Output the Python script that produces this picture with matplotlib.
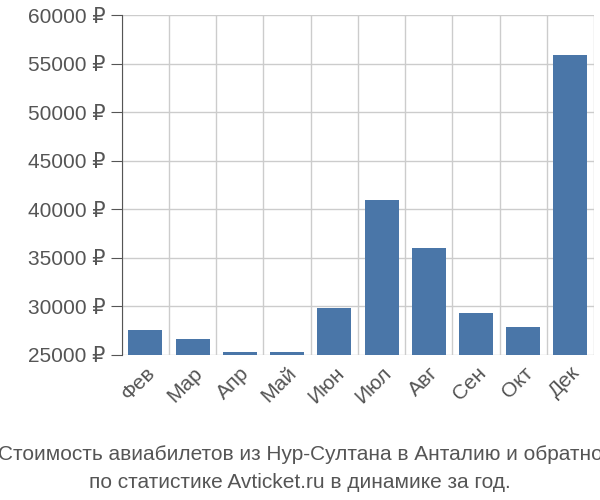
import matplotlib
matplotlib.use("Agg")
import matplotlib.pyplot as plt
import numpy as np

months = ["Фев", "Мар", "Апр", "Май", "Июн", "Июл", "Авг", "Сен", "Окт", "Дек"]
prices = [27600, 26600, 25300, 25300, 29800, 41000, 36000, 29300, 27900, 55900]
yticks = [25000, 30000, 35000, 40000, 45000, 50000, 55000, 60000]

plt.rcParams["font.family"] = ["Liberation Sans", "DejaVu Sans"]
fig = plt.figure(figsize=(6, 5), dpi=100)
ax = fig.add_axes([0.203, 0.29, 0.787, 0.68])
x = np.arange(len(months))
ax.bar(x, [p - 25000 for p in prices], bottom=25000, width=0.72, color="#4a76a8", zorder=3)
ax.set_xlim(-0.5, len(months) - 0.5)
ax.set_ylim(25000, 60000)
ax.set_yticks(yticks)
ax.set_yticklabels([f"{v} ₽" for v in yticks], fontsize=15, color="#555555")
ax.set_xticks(x)
ax.set_xticklabels(months, rotation=45, ha="right", rotation_mode="anchor", fontsize=15, color="#555555")
ax.set_xticks(np.arange(-0.5, len(months), 1), minor=True)
ax.grid(True, axis="y", color="#cccccc", lw=1, zorder=0)
ax.grid(True, axis="x", which="minor", color="#cccccc", lw=1, zorder=0)
ax.tick_params(axis="x", which="both", length=0, pad=6)
ax.tick_params(axis="y", length=8, color="#555555", pad=4)
for s in ["top", "right", "bottom"]:
    ax.spines[s].set_visible(False)
ax.spines["left"].set_color("#555555")
fig.text(0.5, 0.08, "Стоимость авиабилетов из Нур-Султана в Анталию и обратно", ha="center", fontsize=15, color="#555555")
fig.text(0.5, 0.025, "по статистике Avticket.ru в динамике за год.", ha="center", fontsize=15, color="#555555")
fig.savefig("out.png", dpi=100)
